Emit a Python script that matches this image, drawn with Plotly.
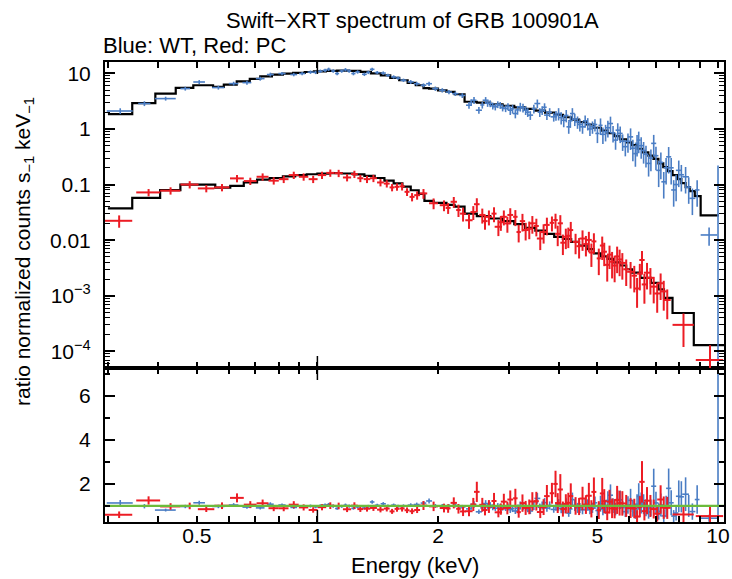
import numpy as np
import plotly.graph_objects as go

# ---------------- data ----------------
# WT (blue) data: bin centre energy (keV), half width, counts/s/keV, relative error
wt_e = [0.322, 0.370, 0.418, 0.468, 0.507, 0.566, 0.618, 0.667, 0.720, 0.763,
        0.816, 0.873, 0.916, 0.961, 0.990, 1.017, 1.045, 1.067, 1.095, 1.120,
        1.150, 1.175, 1.200, 1.230, 1.260, 1.310, 1.340, 1.370, 1.410, 1.460,
        1.500, 1.550, 1.590, 1.640, 1.710, 1.770, 1.840, 1.900, 1.970, 2.050,
        2.130, 2.210, 2.300, 2.390, 2.460, 2.530, 2.630, 2.700, 2.780, 2.860,
        2.950, 3.030, 3.120, 3.210, 3.310, 3.400, 3.540, 3.640, 3.740, 3.890,
        4.000, 4.120, 4.240, 4.330, 4.460, 4.590, 4.730, 4.860, 5.000, 5.090,
        5.240, 5.390, 5.550, 5.700, 5.870, 6.050, 6.220, 6.340, 6.520, 6.710,
        6.910, 7.110, 7.320, 7.530, 7.750, 7.980, 8.300, 8.630, 8.870, 9.500,
        10.00]
wt_hw = [0.024, 0.013, 0.025, 0.013, 0.017, 0.020, 0.017, 0.017, 0.018, 0.015,
         0.017, 0.017, 0.016, 0.016, 0.014, 0.014, 0.013, 0.012, 0.013, 0.013,
         0.014, 0.013, 0.014, 0.015, 0.016, 0.018, 0.016, 0.018, 0.020, 0.022,
         0.020, 0.022, 0.022, 0.028, 0.030, 0.030, 0.030, 0.032, 0.035, 0.038,
         0.038, 0.040, 0.042, 0.040, 0.035, 0.045, 0.045, 0.040, 0.040, 0.045,
         0.045, 0.045, 0.045, 0.045, 0.050, 0.055, 0.060, 0.050, 0.060, 0.070,
         0.060, 0.060, 0.055, 0.060, 0.065, 0.065, 0.070, 0.070, 0.060, 0.060,
         0.075, 0.080, 0.080, 0.080, 0.090, 0.090, 0.080, 0.070, 0.090, 0.100,
         0.100, 0.100, 0.100, 0.110, 0.110, 0.130, 0.160, 0.150, 0.120, 0.450,
         0.0]
wt_val = [2.10, 2.86, 3.51, 5.31, 6.98, 5.54, 6.53, 6.80, 8.03, 9.50,
          9.90, 9.50, 9.90, 10.5, 10.4, 10.9, 11.3, 11.8, 11.0, 9.90,
          11.0, 11.6, 11.0, 9.90, 10.6, 9.60, 10.4, 11.8, 10.3, 10.1,
          9.20, 8.60, 8.20, 7.50, 7.00, 6.50, 6.10, 6.50, 5.30, 4.95,
          4.60, 4.30, 4.00, 2.67, 3.28, 2.17, 3.28, 2.86, 2.50, 2.67,
          2.33, 2.17, 1.89, 2.50, 2.17, 1.77, 2.86, 2.17, 1.77, 1.65,
          1.89, 1.43, 1.09, 1.89, 1.34, 1.09, 1.25, 1.09, 0.83, 1.16,
          0.89, 1.25, 0.63, 0.83, 0.48, 0.72, 0.36, 0.63, 0.41, 0.24,
          0.55, 0.18, 0.112, 0.315, 0.080, 0.18, 0.138, 0.0565, 0.080, 0.0124,
          0.004]
wt_rel = [0.12, 0.10, 0.08, 0.08, 0.08, 0.08, 0.08, 0.08, 0.08, 0.08,
          0.07, 0.07, 0.07, 0.07, 0.07, 0.07, 0.07, 0.07, 0.07, 0.07,
          0.07, 0.07, 0.07, 0.07, 0.07, 0.07, 0.07, 0.07, 0.07, 0.07,
          0.07, 0.07, 0.07, 0.07, 0.08, 0.08, 0.08, 0.09, 0.09, 0.09,
          0.09, 0.09, 0.10, 0.14, 0.14, 0.14, 0.14, 0.14, 0.14, 0.14,
          0.14, 0.18, 0.18, 0.18, 0.18, 0.18, 0.18, 0.18, 0.18, 0.18,
          0.25, 0.25, 0.25, 0.25, 0.25, 0.25, 0.25, 0.25, 0.33, 0.33,
          0.33, 0.33, 0.33, 0.33, 0.33, 0.42, 0.42, 0.42, 0.42, 0.42,
          0.42, 0.50, 0.50, 0.50, 0.50, 0.50, 0.50, 0.50, 0.50, 0.36,
          54.0]

# further WT bins in the dense 2-9 keV cloud
wt2_e = [2.42, 2.58, 2.66, 2.74, 2.82, 2.90, 2.99, 3.07, 3.16, 3.26,
         3.35, 3.47, 3.59, 3.69, 3.80, 3.94, 4.06, 4.18, 4.28, 4.39,
         4.52, 4.66, 4.79, 4.93, 5.16, 5.31, 5.47, 5.62, 5.78, 5.96,
         6.13, 6.28, 6.43, 6.61, 6.80, 7.00, 7.20, 7.42, 7.64, 7.86,
         8.10, 8.45]
wt2_hw = [0.02, 0.03, 0.03, 0.03, 0.03, 0.035, 0.035, 0.035, 0.04, 0.04,
          0.04, 0.045, 0.045, 0.045, 0.05, 0.05, 0.05, 0.055, 0.055, 0.055,
          0.06, 0.06, 0.06, 0.065, 0.065, 0.07, 0.07, 0.07, 0.075, 0.08,
          0.08, 0.08, 0.085, 0.09, 0.09, 0.1, 0.1, 0.1, 0.11, 0.11,
          0.12, 0.13]
wt2_val = [3.0, 2.7, 2.9, 2.6, 2.75, 2.4, 2.55, 2.3, 2.2, 2.4,
           2.0, 2.3, 2.0, 2.45, 2.0, 1.75, 1.6, 1.75, 1.4, 1.5,
           1.2, 1.4, 1.0, 1.2, 0.8, 1.05, 0.85, 0.95, 0.6, 0.6,
           0.45, 0.55, 0.5, 0.35, 0.3, 0.33, 0.25, 0.2, 0.2, 0.1,
           0.15, 0.09]
wt2_rel = [0.14, 0.14, 0.14, 0.14, 0.14, 0.14, 0.14, 0.18, 0.18, 0.18,
           0.18, 0.18, 0.18, 0.18, 0.18, 0.2, 0.25, 0.25, 0.25, 0.25,
           0.25, 0.25, 0.25, 0.25, 0.33, 0.33, 0.33, 0.33, 0.33, 0.38,
           0.42, 0.42, 0.42, 0.42, 0.42, 0.45, 0.5, 0.5, 0.5, 0.5,
           0.5, 0.5]

# PC (red) data
pc_e = [0.320, 0.379, 0.430, 0.480, 0.528, 0.578, 0.630, 0.680, 0.730, 0.778,
        0.824, 0.873, 0.924, 0.976, 1.027, 1.077, 1.130, 1.186, 1.237, 1.280,
        1.330, 1.380, 1.437, 1.490, 1.536, 1.580, 1.627, 1.674, 1.723, 1.774,
        1.840, 1.950, 2.070, 2.190, 2.250, 2.390, 2.500, 2.580, 2.680, 2.830,
        2.920, 3.030, 3.120, 3.180, 3.310, 3.440, 3.600, 3.740, 3.850, 3.930,
        4.040, 4.170, 4.290, 4.410, 4.590, 4.760, 4.900, 5.040, 5.140, 5.290,
        5.440, 5.600, 5.770, 6.050, 6.280, 6.460, 6.650, 6.910, 7.190, 7.470,
        8.200, 9.550]
pc_hw = [0.025, 0.026, 0.025, 0.025, 0.025, 0.025, 0.025, 0.025, 0.025, 0.023,
         0.023, 0.025, 0.025, 0.025, 0.025, 0.025, 0.027, 0.028, 0.024, 0.022,
         0.025, 0.028, 0.028, 0.025, 0.022, 0.022, 0.024, 0.024, 0.025, 0.030,
         0.040, 0.050, 0.050, 0.040, 0.030, 0.050, 0.040, 0.045, 0.050, 0.060,
         0.050, 0.050, 0.040, 0.040, 0.060, 0.070, 0.070, 0.060, 0.050, 0.050,
         0.060, 0.060, 0.060, 0.070, 0.080, 0.080, 0.070, 0.060, 0.070, 0.080,
         0.080, 0.080, 0.120, 0.120, 0.100, 0.100, 0.120, 0.130, 0.140, 0.150,
         0.500, 0.750]
pc_val = [0.0223, 0.0722, 0.0776, 0.100, 0.0852, 0.0888, 0.129, 0.1155, 0.138, 0.1175,
          0.125, 0.148, 0.138, 0.125, 0.148, 0.162, 0.160, 0.134, 0.154, 0.130,
          0.125, 0.130, 0.109, 0.104, 0.0888, 0.0911, 0.093, 0.074, 0.060, 0.0644,
          0.0692, 0.0461, 0.0425, 0.049, 0.0348, 0.0228, 0.0443, 0.0284, 0.0263, 0.0174,
          0.0263, 0.0284, 0.0263, 0.0140, 0.0152, 0.0201, 0.0107, 0.0188, 0.0205, 0.0230,
          0.0201, 0.0115, 0.0152, 0.0093, 0.0107, 0.0101, 0.0095, 0.0047, 0.0080, 0.0036,
          0.0041, 0.0051, 0.0039, 0.0027, 0.00135, 0.0044, 0.0026, 0.00146, 0.00168, 0.00084,
          0.00030, 0.00007]
pc_rel = [0.25, 0.15, 0.15, 0.15, 0.15, 0.15, 0.15, 0.15, 0.15, 0.15,
          0.15, 0.15, 0.15, 0.15, 0.15, 0.15, 0.15, 0.15, 0.15, 0.15,
          0.15, 0.15, 0.15, 0.15, 0.15, 0.15, 0.16, 0.16, 0.17, 0.17,
          0.20, 0.22, 0.22, 0.22, 0.25, 0.30, 0.28, 0.30, 0.30, 0.32,
          0.30, 0.32, 0.32, 0.35, 0.35, 0.35, 0.38, 0.35, 0.30, 0.30,
          0.40, 0.40, 0.40, 0.40, 0.40, 0.40, 0.40, 0.50, 0.45, 0.50,
          0.50, 0.50, 0.50, 0.50, 0.55, 0.45, 0.50, 0.50, 0.50, 0.55,
          0.60, 0.85]

# further PC bins in the 2-7.5 keV cloud
pc2_e = [2.12, 2.31, 2.45, 2.62, 2.76, 2.87, 2.98, 3.25, 3.38, 3.52,
         3.67, 3.98, 4.10, 4.23, 4.50, 4.68, 4.83, 5.20, 5.36, 5.52,
         5.68, 5.90, 6.18, 6.38, 6.55, 6.78, 7.05, 7.32]
pc2_hw = [0.03, 0.04, 0.04, 0.04, 0.04, 0.04, 0.05, 0.05, 0.05, 0.05,
          0.06, 0.06, 0.06, 0.06, 0.07, 0.07, 0.07, 0.08, 0.08, 0.08,
          0.08, 0.1, 0.1, 0.1, 0.1, 0.12, 0.12, 0.13]
pc2_val = [0.038, 0.030, 0.032, 0.022, 0.030, 0.021, 0.020, 0.022, 0.016, 0.018,
           0.014, 0.013, 0.009, 0.012, 0.0078, 0.0085, 0.006, 0.0062, 0.0055, 0.0035,
           0.0045, 0.0030, 0.0023, 0.0025, 0.0016, 0.0021, 0.0011, 0.0012]
pc2_rel = [0.22, 0.28, 0.28, 0.3, 0.3, 0.3, 0.32, 0.35, 0.35, 0.35,
           0.38, 0.4, 0.4, 0.4, 0.4, 0.4, 0.45, 0.45, 0.45, 0.5,
           0.5, 0.5, 0.5, 0.5, 0.55, 0.5, 0.55, 0.55]

# Model (step histograms): bin edges and values
wt_model_edges = [0.30, 0.345, 0.394, 0.443, 0.49, 0.549, 0.584, 0.629, 0.678, 0.72,
                  0.77, 0.82, 0.87, 0.93, 0.98, 1.05, 1.12, 1.2, 1.28, 1.36,
                  1.44, 1.52, 1.6, 1.68, 1.76, 1.84, 1.9, 2.0, 2.1, 2.2,
                  2.33, 2.5, 2.7, 2.9, 3.1, 3.3, 3.5, 3.7, 3.9, 4.1,
                  4.3, 4.5, 4.7, 4.9, 5.1, 5.3, 5.5, 5.7, 5.9, 6.1,
                  6.3, 6.5, 6.7, 6.9, 7.1, 7.3, 7.5, 7.7, 7.9, 8.1,
                  8.3, 8.5, 8.75, 9.05, 10.05]
wt_model = [1.85, 2.9, 4.32, 5.45, 6.1, 5.68, 6.26, 7.18, 7.95, 8.8,
            9.5, 9.9, 10.2, 10.55, 10.85, 11.1, 11.2, 11.1, 10.6, 10.0,
            9.2, 8.3, 7.5, 6.75, 6.1, 5.4, 5.3, 4.95, 4.65, 4.2,
            3.08, 2.96, 2.78, 2.61, 2.45, 2.3, 2.13, 1.96, 1.8, 1.62,
            1.47, 1.32, 1.2, 1.05, 0.93, 0.84, 0.74, 0.65, 0.575, 0.51,
            0.44, 0.38, 0.33, 0.29, 0.24, 0.205, 0.175, 0.148, 0.125, 0.106,
            0.09, 0.076, 0.062, 0.028]

pc_model_edges = [0.30, 0.345, 0.405, 0.455, 0.556, 0.606, 0.655, 0.707, 0.76, 0.82,
                  0.88, 0.94, 1.0, 1.07, 1.15, 1.23, 1.31, 1.39, 1.47, 1.55,
                  1.63, 1.71, 1.79, 1.85, 1.95, 2.1, 2.2, 2.33, 2.5, 2.7,
                  2.9, 3.1, 3.3, 3.5, 3.7, 3.9, 4.1, 4.3, 4.5, 4.7,
                  4.9, 5.1, 5.3, 5.5, 5.7, 5.9, 6.1, 6.4, 6.8, 7.1,
                  7.33, 7.7, 8.7, 10.4]
pc_model = [0.0372, 0.0578, 0.0794, 0.100, 0.0879, 0.0944, 0.109, 0.123, 0.131, 0.140,
            0.148, 0.153, 0.157, 0.160, 0.158, 0.152, 0.143, 0.131, 0.118, 0.105,
            0.092, 0.079, 0.068, 0.051, 0.047, 0.043, 0.040, 0.030, 0.027, 0.0245,
            0.022, 0.0195, 0.0167, 0.0148, 0.0130, 0.0115, 0.0105, 0.0093, 0.0080, 0.0069,
            0.0058, 0.0051, 0.0046, 0.0040, 0.0035, 0.0030, 0.0026, 0.0021, 0.0017, 0.0013,
            0.00092, 0.00049, 0.00013]

BLUE = "#4a7dc4"
RED = "#ec1c24"
GREEN = "#6cbb3c"
FONT = "Liberation Sans, Arial, Helvetica, sans-serif"


def prep(e, hw, val, rel, edges, model):
    e = np.array(e); hw = np.array(hw); val = np.array(val); rel = np.array(rel)
    edges = np.array(edges); model = np.array(model)
    err = val * rel
    err_dn = np.minimum(err, 0.999 * val)
    idx = np.clip(np.searchsorted(edges, e, side="right") - 1, 0, len(model) - 1)
    m = model[idx]
    ratio = val / m
    r_err = err / m
    return e, hw, val, err, err_dn, ratio, r_err


fig = go.Figure()


def add_model(edges, model):
    fig.add_trace(go.Scatter(x=edges, y=list(model) + [model[-1]], mode="lines",
                             line=dict(color="black", width=2.2, shape="hv"),
                             xaxis="x2", yaxis="y2", hoverinfo="skip", showlegend=False))


def add_data(e, hw, val, err, err_dn, color, th, xa, ya, ratio=None, r_err=None):
    if ratio is None:
        y, ep, em = val, err, err_dn
    else:
        y, ep, em = ratio, r_err, r_err
    fig.add_trace(go.Scatter(
        x=e, y=y, mode="markers", marker=dict(size=0.1, color=color, opacity=0),
        error_x=dict(type="data", array=hw, color=color, thickness=th, width=0),
        error_y=dict(type="data", array=ep, arrayminus=em, color=color, thickness=th, width=0),
        xaxis=xa, yaxis=ya, showlegend=False, hoverinfo="skip"))


wt = prep(wt_e + wt2_e, wt_hw + wt2_hw, wt_val + wt2_val, wt_rel + wt2_rel,
          wt_model_edges, wt_model)
pc = prep(pc_e + pc2_e, pc_hw + pc2_hw, pc_val + pc2_val, pc_rel + pc2_rel,
          pc_model_edges, pc_model)

add_model(wt_model_edges, wt_model)
add_model(pc_model_edges, pc_model)
add_data(*wt[:5], BLUE, 1.6, "x2", "y2")
add_data(*pc[:5], RED, 2.0, "x2", "y2")

# ratio panel
add_data(*wt[:5], BLUE, 1.6, "x", "y", ratio=wt[5], r_err=wt[6])
add_data(*pc[:5], RED, 2.0, "x", "y", ratio=pc[5], r_err=pc[6])
fig.add_trace(go.Scatter(x=[0.29, 10.5], y=[1, 1], mode="lines",
                         line=dict(color=GREEN, width=2.2), xaxis="x", yaxis="y",
                         showlegend=False, hoverinfo="skip"))

xr = [np.log10(0.295), np.log10(10.35)]
x_minor = [0.3, 0.4, 0.6, 0.7, 0.8, 0.9, 3, 4, 6, 7, 8, 9]
y_minor = [k * 10.0 ** n for n in range(-5, 2) for k in range(2, 10)]

axis_common = dict(showline=True, linewidth=2, linecolor="black", mirror="allticks",
                   ticks="inside", tickcolor="black", tickwidth=1.5, showgrid=False,
                   zeroline=False, automargin=False,
                   tickfont=dict(family=FONT, size=21, color="black"))

low_frac = 154 / 460

fig.update_layout(
    width=732, height=579,
    margin=dict(l=105, r=8, t=62, b=57),
    paper_bgcolor="white", plot_bgcolor="white",
    font=dict(family=FONT, color="black"),
    xaxis=dict(domain=[0, 1], anchor="y", type="log", range=xr,
               tickvals=[0.5, 1, 2, 5, 10], ticktext=["0.5", "1", "2", "5", "10"],
               ticklen=6, ticklabelstandoff=-6,
               minor=dict(tickvals=x_minor, ticks="inside", ticklen=6,
                          tickcolor="black", tickwidth=1.5, showgrid=False),
               **axis_common),
    xaxis2=dict(domain=[0, 1], anchor="y2", type="log", range=xr, matches="x",
                tickvals=[0.5, 1, 2, 5, 10], showticklabels=False, ticklen=6,
                minor=dict(tickvals=x_minor, ticks="inside", ticklen=6,
                           tickcolor="black", tickwidth=1.5, showgrid=False),
                **axis_common),
    yaxis=dict(domain=[0, low_frac], anchor="x", range=[0.27, 7.27],
               tickvals=[2, 4, 6], ticktext=["2", "4", "6"], ticklen=10,
               ticklabelstandoff=8,
               minor=dict(tickvals=[1, 3, 5, 7], ticks="inside", ticklen=5,
                          tickcolor="black", tickwidth=1.5, showgrid=False),
               **axis_common),
    yaxis2=dict(domain=[low_frac, 1], anchor="x2", type="log",
                range=[np.log10(5.03e-5), np.log10(15.97)],
                tickvals=[1e-4, 1e-3, 1e-2, 1e-1, 1, 10],
                ticktext=["10<sup>−4</sup>", "10<sup>−3</sup>", "0.01", "0.1", "1", "10"],
                ticklen=10, ticklabelstandoff=8,
                minor=dict(tickvals=y_minor, ticks="inside", ticklen=5,
                           tickcolor="black", tickwidth=1.2, showgrid=False),
                **axis_common),
)

# long decade ticks at 1 keV on the horizontal frame lines
for yb in [0.0, low_frac, 1.0]:
    for sgn in ([1] if yb == 0.0 else [-1] if yb == 1.0 else [-1, 1]):
        fig.add_shape(type="line", xref="x", yref="paper", x0=1, x1=1,
                      y0=yb, y1=yb + sgn * 12 / 460, line=dict(color="black", width=1.5))

fig.add_annotation(text="Swift−XRT spectrum of GRB 100901A", xref="paper", yref="paper",
                   x=0.496, y=(522 - 20) / 460, xanchor="center", yanchor="middle",
                   showarrow=False, font=dict(family=FONT, size=22, color="black"))
fig.add_annotation(text="Blue: WT, Red: PC", xref="paper", yref="paper",
                   x=-0.006, y=(522 - 45) / 460, xanchor="left", yanchor="middle",
                   showarrow=False, font=dict(family=FONT, size=22, color="black"))
fig.add_annotation(text="ratio normalized counts s<sub>−1</sub> keV<sub>−1</sub>",
                   xref="paper", yref="paper", x=(24 - 105) / 619, y=(522 - 252) / 460,
                   xanchor="center", yanchor="middle", textangle=-90, showarrow=False,
                   font=dict(family=FONT, size=21, color="black"))
fig.add_annotation(text="Energy (keV)", xref="paper", yref="paper",
                   x=(415 - 105) / 619, y=(522 - 565) / 460, xanchor="center",
                   yanchor="middle", showarrow=False,
                   font=dict(family=FONT, size=22, color="black"))

# remove the browser's default 8px page margin so the 732x579 figure fills the window exactly
fig.write_html("out.html", config={"displayModeBar": False},
               post_script="document.body.style.margin='0';document.body.style.overflow='hidden';")
